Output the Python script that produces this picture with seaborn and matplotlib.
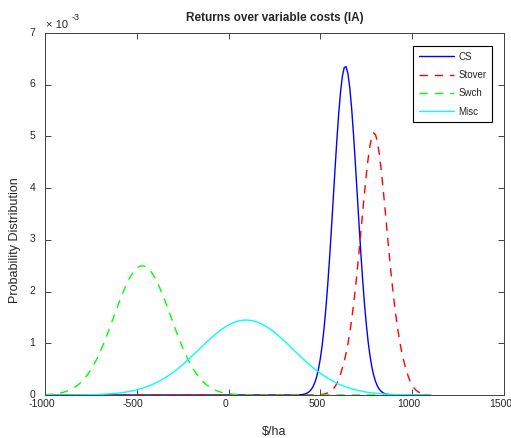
import matplotlib
matplotlib.use("Agg")
import matplotlib.pyplot as plt
import matplotlib.transforms as mtransforms
import seaborn as sns
import pandas as pd

# ---- data (densities in units of 1e-3) ----
cs_x = [-1000, 370, 380, 390, 400, 410, 420, 430, 440, 450, 460, 470, 480, 490,
        500, 510, 520, 530, 540, 550, 560, 570, 580, 590, 600, 610, 620, 630,
        640, 650, 660, 670, 680, 690, 700, 710, 720, 730, 740, 750, 760, 770,
        780, 790, 800, 810, 820, 830, 840, 850, 860, 870, 880, 890, 900, 1100]
cs_y = [0.0, 0.001, 0.003, 0.005, 0.009, 0.015, 0.025, 0.042, 0.067, 0.106,
        0.163, 0.244, 0.357, 0.511, 0.713, 0.972, 1.294, 1.682, 2.137, 2.651,
        3.211, 3.798, 4.389, 4.951, 5.456, 5.871, 6.171, 6.333, 6.348, 6.214,
        5.941, 5.547, 5.058, 4.503, 3.917, 3.326, 2.760, 2.235, 1.768, 1.366,
        1.031, 0.759, 0.547, 0.384, 0.264, 0.177, 0.116, 0.074, 0.046, 0.028,
        0.017, 0.009, 0.005, 0.003, 0.001, 0.0]

stover_x = [-1000, 480, 490, 500, 510, 520, 530, 540, 550, 560, 570, 580, 590,
            600, 610, 620, 630, 640, 650, 660, 670, 680, 690, 700, 710, 720,
            730, 740, 750, 760, 770, 780, 790, 800, 810, 820, 830, 840, 850,
            860, 870, 880, 890, 900, 910, 920, 930, 940, 950, 960, 970, 980,
            990, 1000, 1010, 1020, 1030, 1040, 1050, 1060, 1070, 1080, 1090,
            1100]
stover_y = [0.0, 0.003, 0.005, 0.008, 0.012, 0.018, 0.027, 0.040, 0.058, 0.084,
            0.119, 0.165, 0.226, 0.306, 0.406, 0.529, 0.657, 0.812, 0.993,
            1.206, 1.452, 1.731, 2.043, 2.384, 2.750, 3.134, 3.523, 3.903,
            4.259, 4.573, 4.823, 4.994, 5.069, 5.036, 4.902, 4.681, 4.391,
            4.050, 3.677, 3.289, 2.903, 2.528, 2.176, 1.852, 1.560, 1.301,
            1.075, 0.881, 0.716, 0.577, 0.453, 0.343, 0.256, 0.188, 0.136,
            0.096, 0.068, 0.047, 0.032, 0.021, 0.014, 0.009, 0.006, 0.004]

swch_x = [-1000, -980, -960, -940, -920, -900, -880, -860, -840, -820, -800,
          -780, -760, -740, -720, -700, -680, -660, -640, -620, -600, -580,
          -560, -540, -520, -500, -480, -460, -440, -420, -400, -380, -360,
          -340, -320, -300, -280, -260, -240, -220, -200, -180, -160, -140,
          -120, -100, -80, -60, -40, -20, 0, 20, 40, 60, 80, 100, 120, 140,
          1100]
swch_y = [0.0072, 0.0111, 0.0169, 0.0252, 0.037, 0.053, 0.0757, 0.105, 0.145,
          0.196, 0.259, 0.338, 0.434, 0.549, 0.681, 0.832, 0.998, 1.180, 1.370,
          1.565, 1.759, 1.944, 2.112, 2.258, 2.373, 2.454, 2.495, 2.495, 2.454,
          2.373, 2.258, 2.112, 1.944, 1.759, 1.565, 1.370, 1.180, 0.998, 0.832,
          0.681, 0.549, 0.434, 0.338, 0.259, 0.196, 0.145, 0.105, 0.0757,
          0.053, 0.037, 0.0252, 0.0169, 0.0111, 0.0072, 0.0046, 0.0029, 0.0018,
          0.0011, 0.0]

misc_x = [-1000, -950, -900, -850, -800, -750, -700, -650, -600, -550, -500,
          -450, -400, -375, -350, -325, -300, -275, -250, -225, -200, -175,
          -150, -125, -100, -75, -50, -25, 0, 25, 50, 75, 100, 125, 150, 175,
          200, 225, 250, 275, 300, 325, 350, 375, 400, 425, 450, 475, 500, 525,
          550, 575, 600, 650, 700, 750, 800, 850, 900, 950, 1000, 1050, 1100]
misc_y = [0.0002, 0.0004, 0.0008, 0.0017, 0.0034, 0.0065, 0.0121, 0.0217,
          0.0374, 0.0622, 0.0995, 0.153, 0.227, 0.272, 0.324, 0.381, 0.445,
          0.514, 0.589, 0.668, 0.750, 0.835, 0.920, 1.005, 1.087, 1.165, 1.237,
          1.300, 1.354, 1.397, 1.428, 1.446, 1.450, 1.440, 1.417, 1.381, 1.334,
          1.276, 1.209, 1.135, 1.055, 0.972, 0.886, 0.801, 0.717, 0.636, 0.559,
          0.486, 0.419, 0.358, 0.303, 0.253, 0.210, 0.141, 0.0908, 0.0564,
          0.0337, 0.0194, 0.0107, 0.0057, 0.0029, 0.0015, 0.0007]

series_names = ["CS", "Stover", "Swch", "Misc"]
x_ticks = [-1000, -500, 0, 500, 1000, 1500]
y_ticks = [0, 1, 2, 3, 4, 5, 6, 7]

# ---- style ----
sns.set_style("ticks")
plt.rcParams["font.family"] = ["Liberation Sans", "DejaVu Sans"]
plt.rcParams["axes.unicode_minus"] = False

W, H = 511, 438
fig = plt.figure(figsize=(W / 100, H / 100), dpi=100)
ax = fig.add_axes([45 / W, 1 - 395 / H, 459 / W, 362 / H])

frames = [
    (cs_x, cs_y, (0, 0, 1), "-"),
    (stover_x, stover_y, (1, 0, 0), (0, (6, 5))),
    (swch_x, swch_y, (0, 1, 0), (0, (6, 5))),
    (misc_x, misc_y, (0, 1, 1), "-"),
]
for name, (xs, ys, col, ls) in zip(series_names, frames):
    df = pd.DataFrame({"x": xs, "y": ys})
    sns.lineplot(data=df, x="x", y="y", ax=ax, color=col, linestyle=ls,
                 linewidth=1.0, label=name, estimator=None, sort=False)

ax.set_xlim(-1000, 1500)
ax.set_ylim(0, 7)
ax.set_xticks(x_ticks)
ax.set_yticks(y_ticks)
ax.set_xticklabels([str(v) for v in x_ticks])
ax.set_yticklabels([str(v) for v in y_ticks])
ax.tick_params(direction="in", top=True, right=True, length=4, width=0.6,
               labelsize=7.5, colors="#262626")
ax.tick_params(axis="x", pad=3)
ax.tick_params(axis="y", pad=7)
for sp in ax.spines.values():
    sp.set_visible(True)
    sp.set_color("#404040")
    sp.set_linewidth(0.7)

# MATLAB places x tick labels slightly left of their ticks and
# y tick labels slightly above theirs
xshift = mtransforms.ScaledTranslation(-3.5 / 100, 0, fig.dpi_scale_trans)
for lab in ax.get_xticklabels():
    lab.set_transform(lab.get_transform() + xshift)
yshift = mtransforms.ScaledTranslation(0, 1.5 / 100, fig.dpi_scale_trans)
for lab in ax.get_yticklabels():
    lab.set_transform(lab.get_transform() + yshift)

ax.set_xlabel("\\$/ha", fontsize=9, labelpad=12)
ax.set_ylabel("Probability Distribution", fontsize=9)
ax.yaxis.set_label_coords(-0.052, (395 - 240) / 362)
ax.set_title("Returns over variable costs (IA)", fontsize=8.5,
             fontweight="bold", pad=9)

# exponent marker, MATLAB style
fig.text(46.5 / W, 1 - 28.3 / H, "\u00d7 10", fontsize=8, ha="left",
         va="baseline", color="#262626")
fig.text(72 / W, 1 - 20 / H, "-3", fontsize=6.5, ha="left",
         va="baseline", color="#262626")

leg = ax.legend(loc="upper right", bbox_to_anchor=(0.974, 0.964),
                borderaxespad=0, fontsize=7, handlelength=3.6,
                labelspacing=0.85, fancybox=False, framealpha=1,
                edgecolor="black", borderpad=0.6, handletextpad=0.4)
leg.get_frame().set_linewidth(0.8)

fig.savefig("out.png", dpi=100)
